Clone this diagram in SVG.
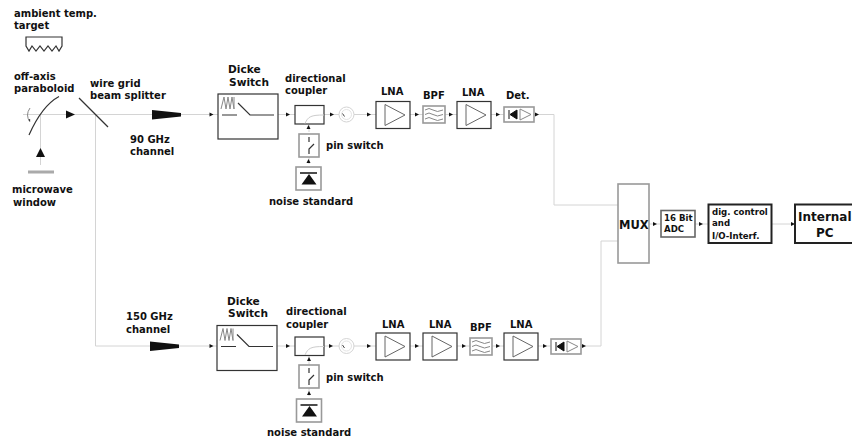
<svg xmlns="http://www.w3.org/2000/svg" xmlns:xlink="http://www.w3.org/1999/xlink" width="852" height="438" viewBox="0 0 852 438">
<style>
text{font-family:"DejaVu Sans","Liberation Sans",sans-serif;font-weight:bold;font-size:10px;fill:#111}
.w{fill:none;stroke:#d4d4d4;stroke-width:1}
.b{fill:#fff;stroke:#333;stroke-width:1.2}
.g{fill:#fff;stroke:#999;stroke-width:1.6}
.l{fill:none;stroke:#333;stroke-width:1.2}
.lg{fill:none;stroke:#888;stroke-width:1}
.a{fill:#111}
.t{font-size:10.600px}
.s{font-size:8.600px}
.p{font-size:12px}
</style>
<defs>
<path id="ar" class="a" d="M-3-2L1 0L-3 2Z"/>
<path id="aru" class="a" d="M-2 1L0-3L2 1Z"/>
<g id="lna"><rect class="b" x="0" y="0" width="34" height="27"/><path d="M9 3V24L29 13.500Z" fill="#fff" stroke="#666" stroke-width="1"/></g>
<g id="bpf"><rect class="g" x="0" y="0" width="22" height="17"/><path class="lg" d="M2 4Q6 1 10 4T20 4M2 8.500Q6 5.500 10 8.500T20 8.500M2 13Q6 10 10 13T20 13"/></g>
<g id="det"><rect class="g" x="0" y="0" width="30" height="15"/><path d="M5 3V12M13 3L6 7.500L13 12Z" fill="#111" stroke="#111"/><path d="M16 2V13L27 7.500Z" fill="#fff" stroke="#888"/></g>
<g id="dicke"><rect class="b" x="0" y="0" width="60" height="45"/><path class="lg" d="M3 15L6 3L8 15L10 3L12 15L14 3L16 15V3"/><path class="l" d="M4 21H19M20 9L32 21H56"/></g>
<g id="coupler"><rect class="b" x="0" y="0" width="29" height="18.500"/><path d="M10 18C13 11 16 9.500 29 9.500" fill="none" stroke="#ccc"/></g>
<g id="circ"><circle cx="0" cy="0" r="7.500" fill="#fff" stroke="#d4d4d4"/><circle cx="0" cy="0" r="5" fill="none" stroke="#e4e4e4"/><path d="M-4-1L-2 2" stroke="#444" fill="none"/></g>
<g id="pin"><rect class="g" x="0" y="0" width="20" height="23"/><path class="l" d="M10 3V8M15 10L10 15V20"/></g>
<g id="noise"><rect class="g" x="0" y="0" width="25" height="23"/><path d="M4 6H21" stroke="#111" stroke-width="1.500"/><path class="a" d="M13 7L5.500 17.500H20.500Z"/></g>
</defs>

<g id="connectors">
<path class="w" d="M23 114.500H218M278 114.500H295M324 114.500H376M410 114.500H423M445 114.500H457M490 114.500H504M534 114.500H554V205H618"/>
<path class="w" d="M95.500 114.500V346H217M276 346H295M324 346H376M410 346H423M457 346H470M492 346H504M538 346H551M581 346H601V241H618"/>
<path class="w" d="M40.500 114.500V165M649 224H661M695 224H708M771 224H795"/>
<path class="w" d="M309 124V132M309 155V164M309 356V364M309 387V396"/>
<use xlink:href="#ar" x="212.500" y="114.500"/><use xlink:href="#ar" x="289" y="114.500"/><use xlink:href="#ar" x="333" y="114.500"/><use xlink:href="#ar" x="370" y="114.500"/><use xlink:href="#ar" x="418" y="114.500"/><use xlink:href="#ar" x="452" y="114.500"/><use xlink:href="#ar" x="499" y="114.500"/><use xlink:href="#ar" x="538" y="114.500"/>
<use xlink:href="#aru" x="308.500" y="128"/><use xlink:href="#aru" x="308.500" y="162"/>
<use xlink:href="#ar" x="212.500" y="346"/><use xlink:href="#ar" x="289" y="346"/><use xlink:href="#ar" x="332" y="346"/><use xlink:href="#ar" x="370" y="346"/><use xlink:href="#ar" x="418" y="346"/><use xlink:href="#ar" x="465" y="346"/><use xlink:href="#ar" x="499" y="346"/><use xlink:href="#ar" x="546" y="346"/><use xlink:href="#ar" x="585" y="346"/>
<use xlink:href="#aru" x="309" y="360"/><use xlink:href="#aru" x="309" y="394"/>
<use xlink:href="#ar" x="656" y="224"/><use xlink:href="#ar" x="702" y="224"/><use xlink:href="#ar" x="794" y="224"/>
<path class="a" d="M66 110.500L75 114.500L66 118.500Z"/>
<path class="a" d="M40.500 148L45 157H36Z"/>
<path class="a" d="M152 110L181 113V116.500L152 119.500Z"/>
<path class="a" d="M150 341.500L179 344.500V348L150 351Z"/>
</g>

<g id="target"><path class="l" d="M26 37H62V46L59 51L56 46L52 51L48 46L44 51L40 46L36 51L32 46L29 51L26 46Z"/><text x="14" y="17">ambient temp.</text><text x="14" y="29">target</text></g>
<g id="paraboloid"><path class="l" d="M29 135C37 117 47 103 59 96.500"/><path d="M30 108Q25 115 30 122" class="lg"/><circle cx="29.500" cy="120" r="0.800"/><text x="14" y="80">off-axis</text><text x="14" y="92">paraboloid</text></g>
<g id="window"><rect x="28" y="170.500" width="26" height="3" fill="#aaa"/><text x="12" y="193">microwave</text><text x="13" y="206">window</text></g>
<g id="splitter"><path class="l" d="M79 98L108 127"/><text x="90" y="87">wire grid</text><text x="90" y="99">beam splitter</text></g>
<g id="label90"><text x="130" y="143">90 GHz</text><text x="130" y="155">channel</text></g>
<g id="label150"><text x="126" y="320">150 GHz</text><text x="126" y="333">channel</text></g>

<g id="dicke1"><use xlink:href="#dicke" x="218" y="94"/><text x="228" y="73" class="t">Dicke</text><text x="229" y="86" class="t">Switch</text></g>
<g id="coupler1"><use xlink:href="#coupler" x="295" y="105.500"/><text x="285" y="82">directional</text><text x="285" y="94">coupler</text></g>
<g id="circ1"><use xlink:href="#circ" x="346.500" y="114.500"/></g>
<g id="pin1"><use xlink:href="#pin" x="299" y="134"/><text x="326" y="149">pin switch</text></g>
<g id="noise1"><use xlink:href="#noise" x="296" y="167"/><text x="269" y="205">noise standard</text></g>
<g id="lna1"><use xlink:href="#lna" x="376" y="101.500"/><text x="381" y="95">LNA</text></g>
<g id="bpf1"><use xlink:href="#bpf" x="423" y="106"/><text x="423" y="99">BPF</text></g>
<g id="lna2"><use xlink:href="#lna" x="457" y="101.500"/><text x="462" y="96">LNA</text></g>
<g id="det1"><use xlink:href="#det" x="504" y="107"/><text x="506" y="99">Det.</text></g>

<g id="dicke2"><use xlink:href="#dicke" x="217" y="325.500"/><text x="227" y="305" class="t">Dicke</text><text x="228" y="317" class="t">Switch</text></g>
<g id="coupler2"><use xlink:href="#coupler" x="295" y="337"/><text x="286" y="315">directional</text><text x="286" y="328">coupler</text></g>
<g id="circ2"><use xlink:href="#circ" x="346.500" y="346"/></g>
<g id="pin2"><use xlink:href="#pin" x="299" y="365"/><text x="326" y="381">pin switch</text></g>
<g id="noise2"><use xlink:href="#noise" x="296.500" y="399"/><text x="267" y="436">noise standard</text></g>
<g id="lna3"><use xlink:href="#lna" x="376" y="333"/><text x="382" y="328">LNA</text></g>
<g id="lna4"><use xlink:href="#lna" x="423" y="333"/><text x="429" y="328">LNA</text></g>
<g id="bpf2"><use xlink:href="#bpf" x="470" y="338"/><text x="470" y="331">BPF</text></g>
<g id="lna5"><use xlink:href="#lna" x="504" y="333"/><text x="510" y="328">LNA</text></g>
<g id="det2"><use xlink:href="#det" x="551" y="339"/></g>

<g id="mux"><rect class="g" x="618" y="184" width="31" height="79"/><text x="619" y="229" style="font-size:11.500px">MUX</text></g>
<g id="adc"><rect class="g" x="661" y="210.500" width="34" height="26.500" style="stroke:#666"/><text x="664" y="221" class="s">16 Bit</text><text x="664" y="232" class="s">ADC</text></g>
<g id="dig"><rect x="708.500" y="204.500" width="63" height="38.500" fill="#fff" stroke="#222" stroke-width="2"/><text x="712" y="215" class="s">dig. control</text><text x="712" y="226" class="s">and</text><text x="712" y="239" class="s">I/O-Interf.</text></g>
<g id="pc"><rect x="795" y="204.500" width="60" height="38.500" fill="#fff" stroke="#222" stroke-width="2"/><text x="798" y="221" class="p">Internal</text><text x="816" y="237" class="p">PC</text></g>
</svg>
